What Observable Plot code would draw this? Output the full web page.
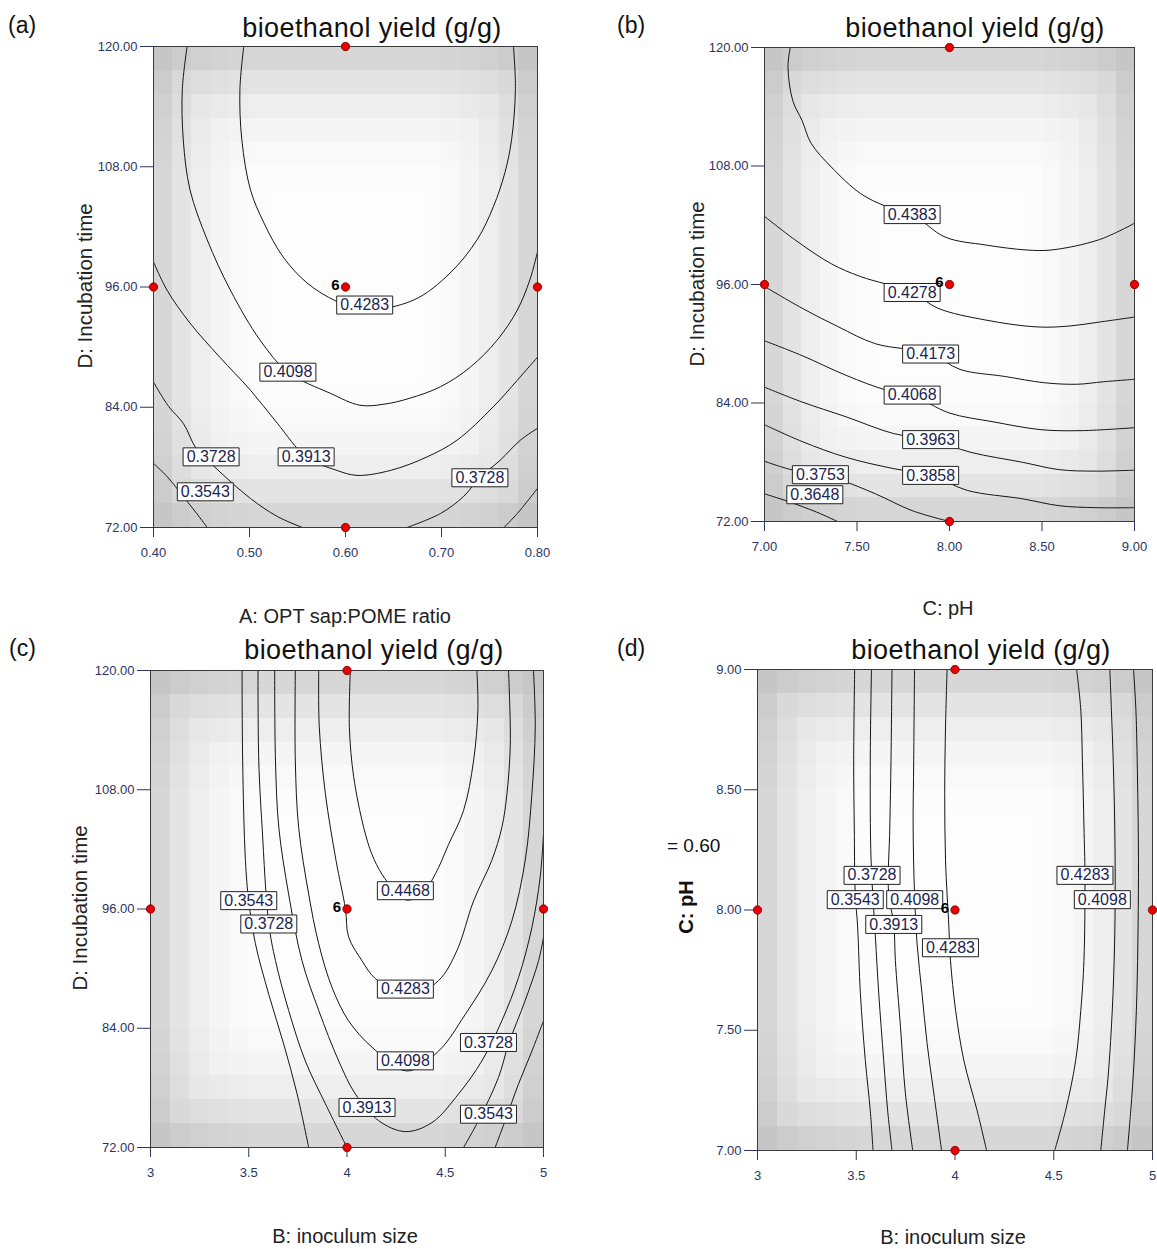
<!DOCTYPE html>
<html><head><meta charset="utf-8">
<script src="https://cdn.jsdelivr.net/npm/d3@7"></script>
<script src="https://cdn.jsdelivr.net/npm/@observablehq/plot@0.6"></script>
<style>
html,body{margin:0;padding:0;background:#fff;}
body{width:1157px;height:1249px;position:relative;overflow:hidden;font-family:"Liberation Sans",Arial,sans-serif;}
.t{position:absolute;white-space:nowrap;line-height:1;}
</style></head><body>
<script>
// ---------- tick values ----------
const xTicksA = [0.4, 0.5, 0.6, 0.7, 0.8];
const yTicksTime = [72, 84, 96, 108, 120];
const xTicksPH = [7, 7.5, 8, 8.5, 9];
const xTicksInoc = [3, 3.5, 4, 4.5, 5];
const yTicksPH = [7, 7.5, 8, 8.5, 9];

// ---------- design points ----------
const designA = [[0.6,120],[0.4,96],[0.6,96],[0.8,96],[0.6,72]];
const designB = [[8,120],[7,96],[8,96],[9,96],[8,72]];
const designC = [[4,120],[3,96],[4,96],[5,96],[4,72]];
const designD = [[4,9],[3,8],[4,8],[5,8],[4,7]];
const centerA = [0.6,96], centerB = [8,96], centerC = [4,96], centerD = [4,8];

// ---------- contour lines ----------
// (a) A: OPT sap:POME ratio vs D: Incubation time
const a4283 = [[0.494,120],[0.490,115.7],[0.492,110.7],[0.501,105.7],[0.515,102.4],[0.535,99.0],[0.560,96.4],[0.590,94.6],[0.619,93.7],[0.671,94.7],[0.709,97.4],[0.737,100.7],[0.754,104.0],[0.766,107.4],[0.773,110.7],[0.777,115.7],[0.775,120]];
const a4098 = [[0.435,120],[0.430,115.7],[0.431,110.7],[0.438,105.7],[0.456,100.7],[0.480,95.7],[0.511,90.7],[0.540,87.5],[0.584,85.4],[0.615,84.2],[0.640,84.3],[0.667,84.9],[0.699,86.05],[0.730,88.0],[0.758,90.7],[0.779,93.7],[0.792,96.7],[0.800,99.5]];
const a3913 = [[0.400,98.5],[0.414,95.7],[0.438,92.4],[0.469,89.0],[0.501,85.7],[0.529,82.4],[0.559,79.05],[0.591,77.7],[0.612,77.2],[0.647,77.7],[0.685,79.05],[0.716,80.7],[0.754,84.05],[0.779,86.7],[0.800,89.0]];
const a3728L = [[0.400,86.5],[0.416,84.05],[0.431,82.4],[0.445,79.8],[0.463,78.1],[0.501,74.9],[0.529,73.1],[0.555,72.0]];
const a3728R = [[0.664,72.0],[0.699,73.4],[0.723,75.1],[0.740,77.0],[0.761,78.7],[0.782,80.7],[0.800,81.9]];
const a3543L = [[0.400,78.4],[0.414,77.1],[0.431,75.1],[0.445,73.4],[0.456,72.0]];
const a3543R = [[0.765,72.0],[0.779,73.4],[0.800,75.9]];
const labelsA = [["0.4283",0.620,94.2],["0.4098",0.540,87.5],["0.3913",0.559,79.05],["0.3728",0.460,79.05],["0.3543",0.454,75.56],["0.3728",0.740,76.96]];

// (b) C: pH vs D: Incubation time
const b4383 = [[7.139,120],[7.127,118.0],[7.153,114.6],[7.203,112.6],[7.252,110.3],[7.361,107.9],[7.520,105.2],[7.659,103.9],[7.798,103.1],[7.977,100.8],[8.196,100.0],[8.414,99.5],[8.553,99.5],[8.811,100.55],[9.0,102.2]];
const b4278 = [[7.0,102.9],[7.163,100.55],[7.361,98.1],[7.520,96.8],[7.798,95.2],[7.937,93.6],[8.196,92.4],[8.474,91.7],[8.652,91.8],[8.811,92.2],[9.0,92.7]];
const b4173 = [[7.0,95.8],[7.203,93.6],[7.401,91.7],[7.600,90.0],[7.898,89.0],[8.057,87.4],[8.295,86.7],[8.513,86.05],[8.692,85.9],[8.831,86.15],[9.0,86.4]];
const b4068 = [[7.0,90.3],[7.203,88.8],[7.441,86.8],[7.659,85.3],[7.798,84.8],[7.997,83.0],[8.235,82.1],[8.494,81.3],[8.712,81.2],[9.0,81.5]];
const b3963 = [[7.0,85.6],[7.203,84.1],[7.441,82.6],[7.699,80.9],[7.898,80.3],[8.116,79.0],[8.394,78.0],[8.593,77.25],[8.791,77.1],[9.0,77.2]];
const b3858 = [[7.0,81.8],[7.203,80.1],[7.441,78.5],[7.699,77.35],[7.898,76.7],[8.096,75.15],[8.394,74.3],[8.593,73.6],[8.791,73.4],[9.0,73.4]];
const b3753 = [[7.0,78.1],[7.143,77.25],[7.302,76.7],[7.425,76.1],[7.600,74.8],[7.798,73.1],[8.0,72.0]];
const b3648 = [[7.0,74.8],[7.123,74.06],[7.282,72.95],[7.395,72.0]];
const labelsB = [["0.4383",7.798,103.08],["0.4278",7.798,95.19],["0.4173",7.898,88.96],["0.4068",7.798,84.80],["0.3963",7.898,80.29],["0.3858",7.898,76.67],["0.3753",7.302,76.74],["0.3648",7.272,74.71]];

// (c) B: inoculum size vs D: Incubation time
const c4468 = [[4.017,120],[4.012,114.3],[4.034,109.3],[4.085,104.2],[4.127,101.5],[4.178,99.5],[4.246,97.8],[4.305,96.9],[4.381,97.5],[4.449,99.5],[4.517,102.5],[4.593,105.9],[4.644,110.9],[4.666,116.0],[4.661,120]];
const c4283 = [[3.856,120],[3.859,114.3],[3.890,107.6],[3.944,100.9],[3.992,96.0],[4.008,93.2],[4.076,90.8],[4.144,89.0],[4.305,87.1],[4.466,88.8],[4.559,91.8],[4.644,96.8],[4.737,100.9],[4.788,104.2],[4.814,107.6],[4.831,112.6],[4.822,120]];
const c4098 = [[3.737,120],[3.737,110.9],[3.754,104.2],[3.805,97.5],[3.856,92.5],[3.924,88.1],[4.008,84.75],[4.127,82.1],[4.305,79.7],[4.466,81.7],[4.602,85.4],[4.737,89.8],[4.839,94.8],[4.907,100.9],[4.941,107.6],[4.958,114.3],[4.949,120]];
const c3913 = [[3.632,120],[3.636,110.9],[3.653,104.2],[3.703,97.5],[3.771,90.8],[3.856,85.8],[3.958,80.7],[4.042,77.4],[4.161,74.7],[4.297,73.6],[4.432,74.5],[4.568,77.4],[4.686,80.7],[4.788,84.75],[4.873,89.1],[4.941,94.15],[4.983,99.2],[5.0,103.55]];
const c3728L = [[3.547,120],[3.551,110.9],[3.568,104.2],[3.602,94.5],[3.636,90.8],[3.703,85.8],[3.788,80.7],[3.890,76.4],[4.0,72.0]];
const c3728R = [[4.593,72.0],[4.669,74.7],[4.771,79.05],[4.822,82.4],[4.907,86.8],[4.975,90.8],[5.0,93.15]];
const c3543L = [[3.466,120],[3.469,110.9],[3.483,100.9],[3.5,96.8],[3.534,92.5],[3.602,87.4],[3.678,82.4],[3.746,77.4],[3.805,72.0]];
const c3543R = [[4.754,72.0],[4.805,74.7],[4.873,78.4],[4.941,81.7],[5.0,84.75]];
const labelsC = [["0.4468",4.297,97.84],["0.4283",4.297,87.94],["0.4098",4.297,80.72],["0.3913",4.102,76.03],["0.3543",3.5,96.84],["0.3728",3.602,94.49],["0.3728",4.720,82.57],["0.3543",4.720,75.35]];

// (d) B: inoculum size vs C: pH
const d3543 = [[3.492,9],[3.487,8.623],[3.490,8.345],[3.495,8.068],[3.507,7.929],[3.521,7.652],[3.546,7.374],[3.571,7.166],[3.585,7.0]];
const d3728 = [[3.577,9],[3.571,8.623],[3.575,8.207],[3.597,7.888],[3.614,7.652],[3.639,7.374],[3.659,7.166],[3.681,7.0]];
const d3913 = [[3.681,9],[3.676,8.623],[3.670,8.345],[3.664,8.068],[3.690,7.943],[3.698,7.791],[3.724,7.513],[3.749,7.236],[3.786,7.0]];
const d4098 = [[3.795,9],[3.791,8.623],[3.788,8.345],[3.795,8.068],[3.808,7.860],[3.833,7.652],[3.859,7.444],[3.893,7.236],[3.932,7.0]];
const d4283L = [[3.960,9],[3.952,8.761],[3.948,8.484],[3.952,8.207],[3.969,7.929],[3.977,7.791],[4.003,7.583],[4.045,7.374],[4.112,7.166],[4.160,7.0]];
const d4283R = [[4.616,9],[4.637,8.831],[4.645,8.623],[4.653,8.345],[4.658,8.144],[4.653,7.791],[4.637,7.583],[4.611,7.374],[4.560,7.166],[4.505,7.0]];
const d4098R = [[4.784,9],[4.792,8.831],[4.801,8.623],[4.809,8.345],[4.811,8.043],[4.806,7.791],[4.792,7.513],[4.775,7.305],[4.758,7.166],[4.738,7.0]];
const d3913R = [[4.904,9],[4.916,8.831],[4.924,8.553],[4.929,8.207],[4.927,7.929],[4.921,7.652],[4.907,7.374],[4.890,7.166],[4.873,7.0]];
const labelsD = [["0.3728",3.580,8.144],["0.3543",3.495,8.043],["0.4098",3.796,8.043],["0.3913",3.690,7.940],["0.4283",3.977,7.843],["0.4283",4.658,8.144],["0.4098",4.746,8.043]];

// background edge shading (darkness by cell distance from the frame edge)
const edgeShade = [38, 25, 15, 8, 4, 1, 0, 0, 0, 0];

// ---------- helpers ----------
function flatLines(list) {
  const out = [];
  list.forEach((pts, k) => pts.forEach(([x, y]) => out.push({k, x, y})));
  return out;
}
function shadeCells(xd, yd) {
  const n = 20, cells = [];
  for (let i = 0; i < n; i++) for (let j = 0; j < n; j++) {
    const a = edgeShade[Math.min(i, n - 1 - i)], b = edgeShade[Math.min(j, n - 1 - j)];
    const d = Math.max(a, b) + 0.45 * Math.min(a, b);
    const g = Math.round(253 - d);
    cells.push({
      x1: xd[0] + (xd[1] - xd[0]) * i / n, x2: xd[0] + (xd[1] - xd[0]) * (i + 1) / n,
      y1: yd[0] + (yd[1] - yd[0]) * j / n, y2: yd[0] + (yd[1] - yd[0]) * (j + 1) / n,
      c: `rgb(${g},${g},${g})`
    });
  }
  return cells;
}
const boxSymbol = {draw(ctx) { ctx.moveTo(-28, -9); ctx.lineTo(28, -9); ctx.lineTo(28, 9); ctx.lineTo(-28, 9); ctx.closePath(); }};

function makePanel(cfg) {
  const mL = 75, mR = 25, mT = 15, mB = 40;
  const plot = Plot.plot({
    width: cfg.W + mL + mR, height: cfg.H + mT + mB,
    marginLeft: mL, marginRight: mR, marginTop: mT, marginBottom: mB,
    x: {domain: cfg.xd, ticks: cfg.xt, tickFormat: cfg.xf, tickSize: 10, tickPadding: 10, label: null},
    y: {domain: cfg.yd, ticks: cfg.yt, tickFormat: cfg.yf, tickSize: 13, tickPadding: 3, label: null},
    color: {type: "identity"},
    style: {fontFamily: '"Liberation Sans", Arial, sans-serif', fontSize: "13px", color: "#2b3566", background: "transparent", overflow: "visible"},
    marks: [
      Plot.rect(shadeCells(cfg.xd, cfg.yd), {x1: "x1", x2: "x2", y1: "y1", y2: "y2", fill: "c", shapeRendering: "crispEdges"}),
      Plot.line(flatLines(cfg.lines), {x: "x", y: "y", z: "k", stroke: "#151515", strokeWidth: 1, curve: "catmull-rom", clip: true}),
      Plot.frame({stroke: "#3a3a3a", strokeWidth: 1}),
      Plot.dot(cfg.labels, {x: d => d[1], y: d => d[2], symbol: boxSymbol, r: 5, fill: "#ffffff", stroke: "#222", strokeWidth: 1}),
      Plot.text(cfg.labels, {x: d => d[1], y: d => d[2], text: d => d[0], fontSize: 16, fill: "#1c2550"}),
      Plot.dot(cfg.points, {x: d => d[0], y: d => d[1], r: 4.2, fill: "#e60000", stroke: "#7a0000", strokeWidth: 0.8}),
      Plot.text([cfg.center], {x: d => d[0], y: d => d[1], text: () => "6", dx: -10, dy: -2, fontSize: 15, fontWeight: "bold", fill: "#000"})
    ]
  });
  plot.style.position = "absolute";
  plot.style.left = (cfg.L - mL) + "px";
  plot.style.top = (cfg.T - mT) + "px";
  document.body.appendChild(plot);
}

const f2 = d3.format(".2f");
const fPlain = d => String(d);

makePanel({L: 153, T: 46, W: 384, H: 481, xd: [0.4, 0.8], yd: [72, 120], xt: xTicksA, yt: yTicksTime, xf: f2, yf: f2,
  lines: [a4283, a4098, a3913, a3728L, a3728R, a3543L, a3543R], labels: labelsA, points: designA, center: centerA});
makePanel({L: 764, T: 47, W: 370, H: 474, xd: [7, 9], yd: [72, 120], xt: xTicksPH, yt: yTicksTime, xf: f2, yf: f2,
  lines: [b4383, b4278, b4173, b4068, b3963, b3858, b3753, b3648], labels: labelsB, points: designB, center: centerB});
makePanel({L: 150, T: 670, W: 393, H: 477, xd: [3, 5], yd: [72, 120], xt: xTicksInoc, yt: yTicksTime, xf: fPlain, yf: f2,
  lines: [c4468, c4283, c4098, c3913, c3728L, c3728R, c3543L, c3543R], labels: labelsC, points: designC, center: centerC});
makePanel({L: 757, T: 669, W: 395, H: 481, xd: [3, 5], yd: [7, 9], xt: xTicksInoc, yt: yTicksPH, xf: fPlain, yf: f2,
  lines: [d3543, d3728, d3913, d4098, d4283L, d4283R, d4098R, d3913R], labels: labelsD, points: designD, center: centerD});

// ---------- text outside the SVGs ----------
function addText(txt, x, y, o = {}) {
  const el = document.createElement("div");
  el.className = "t";
  el.textContent = txt;
  el.style.left = x + "px";
  el.style.top = y + "px";
  el.style.fontSize = (o.size || 18) + "px";
  el.style.color = o.color || "#1a1a1a";
  if (o.weight) el.style.fontWeight = o.weight;
  if (o.ls) el.style.letterSpacing = o.ls + "px";
  const tr = o.left ? "translate(0,-50%)" : "translate(-50%,-50%)";
  el.style.transform = tr + (o.rotate ? ` rotate(${o.rotate}deg)` : "");
  document.body.appendChild(el);
  return el;
}
const title = "bioethanol yield (g/g)";
addText(title, 372, 27.6, {size: 27, ls: 0.4, color: "#111"});
addText(title, 975, 28, {size: 27, ls: 0.4, color: "#111"});
addText(title, 374, 650, {size: 27, ls: 0.4, color: "#111"});
addText(title, 981, 650, {size: 27, ls: 0.4, color: "#111"});

addText("(a)", 8, 24.5, {size: 23, left: true, color: "#111"});
addText("(b)", 617, 24.5, {size: 23, left: true, color: "#111"});
addText("(c)", 9, 648, {size: 23, left: true, color: "#111"});
addText("(d)", 617, 648, {size: 23, left: true, color: "#111"});

addText("A: OPT sap:POME ratio", 345, 616, {size: 20, color: "#222"});
addText("C: pH", 948, 608, {size: 20, color: "#222"});
addText("B: inoculum size", 345, 1236, {size: 20, color: "#222"});
addText("B: inoculum size", 953, 1237, {size: 20, color: "#222"});

addText("D: Incubation time", 85, 286, {size: 20.5, rotate: -90, color: "#222"});
addText("D: Incubation time", 697, 284, {size: 20.5, rotate: -90, color: "#222"});
addText("D: Incubation time", 80, 908, {size: 20.5, rotate: -90, color: "#222"});
addText("C: pH", 686, 907, {size: 20, rotate: -90, weight: "bold", color: "#111"});

// fragment of the fixed-factor note at the left of panel (d)
addText("= 0.60", 667, 845, {size: 19, left: true, color: "#111"});
</script>
</body></html>
